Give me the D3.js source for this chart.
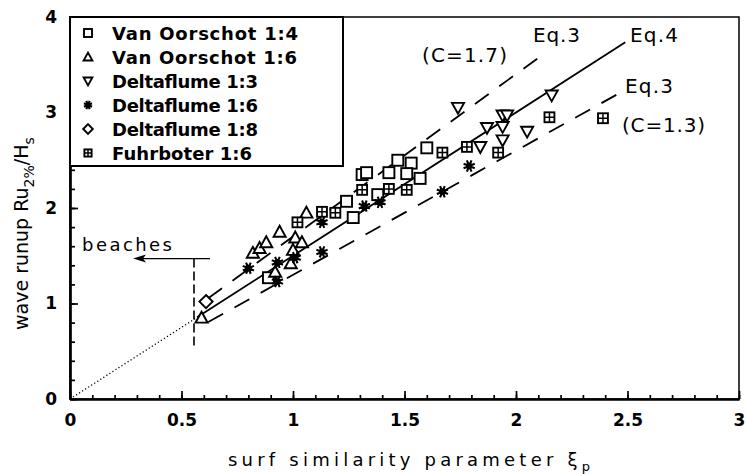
<!DOCTYPE html>
<html>
<head>
<meta charset="utf-8">
<script src="https://cdn.jsdelivr.net/npm/d3@7"></script>
<style>
  body { margin: 0; background: #fff; }
  svg { display: block; }
  text { fill: #000; }
</style>
</head>
<body>
<svg id="chart" width="746" height="474"></svg>
<script>
// Data: [xi_p, Ru2%/Hs]
var vanOorschot14 = [[0.89,1.27],[1.24,2.07],[1.27,1.90],[1.31,2.35],[1.33,2.37],[1.43,2.37],
	[1.38,2.14],[1.47,2.50],[1.53,2.47],[1.51,2.36],[1.57,2.31],[1.60,2.63]];
var vanOorschot16 = [[0.59,0.85],[0.82,1.53],[0.85,1.58],[0.88,1.64],[0.94,1.75],[0.92,1.33],
	[1.00,1.56],[1.01,1.69],[1.04,1.64],[1.06,1.95],[0.99,1.42]];
var deltaflume13 = [[1.74,3.05],[1.94,2.97],[1.96,2.97],[2.16,3.18],[1.87,2.84],[1.94,2.85],
	[2.05,2.80],[1.94,2.71],[1.84,2.64]];
var deltaflume16 = [[0.80,1.37],[0.93,1.43],[0.93,1.23],[1.01,1.48],[1.13,1.54],[1.13,1.85],
	[1.32,2.02],[1.39,2.06],[1.67,2.17],[1.79,2.44]];
var deltaflume18 = [[0.61,1.02]];
var fuhrboter16 = [[1.02,1.85],[1.13,1.96],[1.19,1.95],[1.31,2.19],[1.43,2.20],[1.51,2.19],
	[1.67,2.58],[1.78,2.64],[1.92,2.58],[2.15,2.95],[2.39,2.94]];

// Series names, in legend order
var seriesNames = ["Van Oorschot 1:4", "Van Oorschot 1:6", "Deltaflume 1:3",
	"Deltaflume 1:6", "Deltaflume 1:8", "Fuhrboter 1:6"];
var seriesShapes = ["square", "triangle", "triangleDown", "asterisk", "diamond", "grid"];

// Equation lines (end points)
var eq4Dotted = [[0, 0], [0.57, 0.855]];
var eq4Line = [[0.57, 0.855], [2.49, 3.735]];
var eq3Upper = [[0.62, 1.054], [2.14, 3.64]];
var eq3Lower = [[0.62, 0.806], [2.45, 3.185]];
var beachLimit = 0.556;
var beachRange = [0.53, 1.47];

// Tick values
var xMajor = [0, 0.5, 1, 1.5, 2, 2.5, 3];
var xMinor = d3.range(0, 31).map(function(i) { return i / 10; });
var yMajor = [0, 1, 2, 3, 4];
var yMinor = d3.range(0, 21).map(function(i) { return i / 5; });

var svg = d3.select("#chart");
var font = "'DejaVu Sans', sans-serif";

var x = d3.scaleLinear().domain([0, 3]).range([70, 739]);
var y = d3.scaleLinear().domain([0, 4]).range([399, 17]);

// Plot frame
svg.append("rect")
	.attr("x", x(0)).attr("y", y(4))
	.attr("width", x(3) - x(0)).attr("height", y(0) - y(4))
	.attr("fill", "none").attr("stroke", "#000").attr("stroke-width", 1.5);

// Axes, ticks point inward
function styleAxis(g) {
	g.selectAll("path.domain").attr("stroke", "#000").attr("stroke-width", 2.2);
	g.selectAll(".tick line").attr("stroke", "#000").attr("stroke-width", 1.7);
	g.selectAll(".tick text").attr("font-family", font).attr("font-weight", "bold")
		.attr("font-size", 17).attr("fill", "#000");
}

svg.append("g")
	.attr("transform", "translate(0," + y(0) + ")")
	.call(d3.axisBottom(x).tickValues(xMinor).tickSize(-4).tickSizeOuter(0).tickFormat(""))
	.call(styleAxis);
svg.append("g")
	.attr("transform", "translate(0," + y(0) + ")")
	.call(d3.axisBottom(x).tickValues(xMajor).tickSize(-8).tickSizeOuter(0).tickPadding(15)
		.tickFormat(d3.format("")))
	.call(styleAxis);

svg.append("g")
	.attr("transform", "translate(" + x(0) + ",0)")
	.call(d3.axisLeft(y).tickValues(yMinor).tickSize(-5).tickSizeOuter(0).tickFormat(""))
	.call(styleAxis);
svg.append("g")
	.attr("transform", "translate(" + x(0) + ",0)")
	.call(d3.axisLeft(y).tickValues(yMajor).tickSize(-8).tickSizeOuter(0).tickPadding(13)
		.tickFormat(d3.format("d")))
	.call(styleAxis);

// Axis titles
svg.append("text")
	.attr("x", 228).attr("y", 466)
	.attr("font-family", font).attr("font-size", 18)
	.attr("textLength", 362).attr("lengthAdjust", "spacing")
	.text("surf similarity parameter ξ")
	.append("tspan").attr("dy", 5).attr("font-size", 13).text("p");

svg.append("text")
	.attr("transform", "translate(28,330) rotate(-90)")
	.attr("font-family", font).attr("font-size", 19)
	.text("wave runup Ru")
	.call(function(t) {
		t.append("tspan").attr("dy", 6).attr("font-size", 14).text("2%");
		t.append("tspan").attr("dy", -6).text("/H");
		t.append("tspan").attr("dy", 6).attr("font-size", 14).text("s");
	});

// Equation lines
var line = d3.line().x(function(d) { return x(d[0]); }).y(function(d) { return y(d[1]); });

svg.append("path").datum(eq4Dotted).attr("d", line)
	.attr("fill", "none").attr("stroke", "#000").attr("stroke-width", 1.3)
	.attr("stroke-dasharray", "1.2,2.4");
svg.append("path").datum(eq4Line).attr("d", line)
	.attr("fill", "none").attr("stroke", "#000").attr("stroke-width", 1.8);
[eq3Upper, eq3Lower].forEach(function(seg) {
	svg.append("path").datum(seg).attr("d", line)
		.attr("fill", "none").attr("stroke", "#000").attr("stroke-width", 1.8)
		.attr("stroke-dasharray", "17,13");
});

// Beaches marker
svg.append("line")
	.attr("x1", x(beachLimit)).attr("x2", x(beachLimit))
	.attr("y1", y(beachRange[1])).attr("y2", y(beachRange[0]))
	.attr("stroke", "#000").attr("stroke-width", 1.6).attr("stroke-dasharray", "9,4");
svg.append("line")
	.attr("x1", 141).attr("x2", 210)
	.attr("y1", y(beachRange[1])).attr("y2", y(beachRange[1]))
	.attr("stroke", "#000").attr("stroke-width", 1.4);
svg.append("path")
	.attr("d", "M133," + y(beachRange[1]) + "l13,-4l-3,4l3,4z")
	.attr("fill", "#000");
svg.append("text")
	.attr("x", 82).attr("y", 251)
	.attr("font-family", font).attr("font-size", 18)
	.attr("textLength", 90).attr("lengthAdjust", "spacing")
	.text("beaches");

// Line labels
var labels = [
	{t: "Eq.3", x: 533, y: 42, w: 47},
	{t: "(C=1.7)", x: 422, y: 62, w: 85},
	{t: "Eq.4", x: 630, y: 42, w: 48},
	{t: "Eq.3", x: 625, y: 93, w: 48},
	{t: "(C=1.3)", x: 622, y: 132, w: 83}
];
labels.forEach(function(l) {
	svg.append("text")
		.attr("x", l.x).attr("y", l.y)
		.attr("font-family", font).attr("font-size", 20)
		.attr("textLength", l.w).attr("lengthAdjust", "spacing")
		.text(l.t);
});

// Marker drawing
function drawMarker(g, shape, r) {
	var sw = 1.9;
	if (shape == "square") {
		g.append("rect").attr("x", -r).attr("y", -r).attr("width", 2*r).attr("height", 2*r)
			.attr("fill", "#fff").attr("stroke", "#000").attr("stroke-width", sw);
	} else if (shape == "triangle" || shape == "triangleDown") {
		var s = shape == "triangle" ? 1 : -1;
		var h = r * 1.1;
		g.append("path")
			.attr("d", "M0," + (-s*h) + "L" + (r*1.1) + "," + (s*h*0.8) + "L" + (-r*1.1) + "," + (s*h*0.8) + "Z")
			.attr("fill", "#fff").attr("stroke", "#000").attr("stroke-width", sw);
	} else if (shape == "diamond") {
		var d = r * 1.2;
		g.append("path").attr("d", "M0," + (-d) + "L" + d + ",0L0," + d + "L" + (-d) + ",0Z")
			.attr("fill", "#fff").attr("stroke", "#000").attr("stroke-width", sw);
	} else if (shape == "grid") {
		var q = r * 0.9;
		g.append("rect").attr("x", -q).attr("y", -q).attr("width", 2*q).attr("height", 2*q)
			.attr("fill", "#fff").attr("stroke", "#000").attr("stroke-width", sw);
		g.append("path").attr("d", "M" + (-q) + ",0H" + q + "M0," + (-q) + "V" + q)
			.attr("stroke", "#000").attr("stroke-width", 1.5);
	} else if (shape == "asterisk") {
		var p = "";
		for (var i = 0; i < 8; i++) {
			var a = i * Math.PI / 4 + Math.PI / 8;
			p += "M0,0L" + (Math.cos(a) * r * 1.1) + "," + (Math.sin(a) * r * 1.1);
		}
		g.append("path").attr("d", p).attr("stroke", "#000").attr("stroke-width", 2.1);
		g.append("circle").attr("r", r * 0.6).attr("fill", "#000");
	}
}

var allSeries = [vanOorschot14, vanOorschot16, deltaflume13, deltaflume16, deltaflume18, fuhrboter16];
allSeries.forEach(function(data, i) {
	svg.append("g").selectAll("g")
		.data(data)
		.enter().append("g")
		.attr("transform", function(d) { return "translate(" + x(d[0]) + "," + y(d[1]) + ")"; })
		.each(function() { drawMarker(d3.select(this), seriesShapes[i], 5.5); });
});

// Legend
svg.append("rect")
	.attr("x", 70).attr("y", 17).attr("width", 273).attr("height", 149)
	.attr("fill", "#fff").attr("stroke", "#000").attr("stroke-width", 2);

var legendWidths = [186, 185, 146, 146, 146, 140];
seriesNames.forEach(function(name, i) {
	var cy = 33 + i * 24;
	var g = svg.append("g").attr("transform", "translate(88," + cy + ")");
	drawMarker(g, seriesShapes[i], 4);
	svg.append("text")
		.attr("x", 112).attr("y", cy + 6.5)
		.attr("font-family", font).attr("font-size", 18).attr("font-weight", "bold")
		.attr("textLength", legendWidths[i]).attr("lengthAdjust", "spacing")
		.text(name);
});
</script>
</body>
</html>
